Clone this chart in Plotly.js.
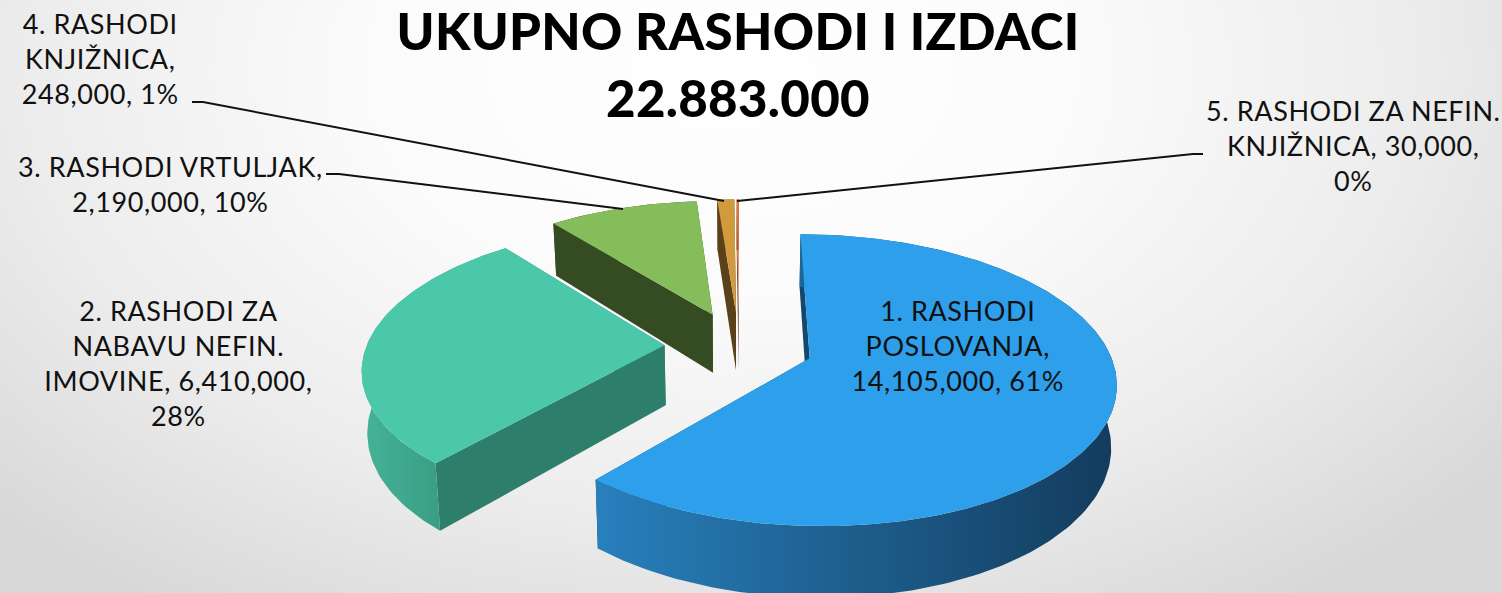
<!DOCTYPE html>
<html><head><meta charset="utf-8">
<script src="https://cdn.plot.ly/plotly-3.0.1.min.js"></script>
<style>
html,body{margin:0;padding:0;width:1502px;height:593px;overflow:hidden;
background:radial-gradient(ellipse 1000px 640px at 48% 12%,#ffffff 0%,#fbfbfb 35%,#ececec 70%,#d8d8d8 100%);}
#chart{width:1502px;height:593px;}
#chart .annotation-text{letter-spacing:.6px;}
#chart .gtitle{letter-spacing:.3px;}
</style></head><body><div id="chart"></div>
<script>
const titleLines = ["UKUPNO RASHODI I IZDACI", "22.883.000"];
const categories = ["1. RASHODI POSLOVANJA", "2. RASHODI ZA NABAVU NEFIN. IMOVINE", "3. RASHODI VRTULJAK", "4. RASHODI KNJIŽNICA", "5. RASHODI ZA NEFIN. KNJIŽNICA"];
const values = [14105000, 6410000, 2190000, 248000, 30000];
const labelTexts = [
  "1. RASHODI<br>POSLOVANJA,<br>14,105,000, 61%",
  "2. RASHODI ZA<br>NABAVU NEFIN.<br>IMOVINE, 6,410,000,<br>28%",
  "3. RASHODI VRTULJAK,<br>2,190,000, 10%",
  "4. RASHODI<br>KNJIŽNICA,<br>248,000, 1%",
  "5. RASHODI ZA NEFIN.<br>KNJIŽNICA, 30,000,<br>0%"
];
const topColors = ["#2e9fea", "#4bc8aa", "#85bd5a", "#d19a3c", "#e8763c"];
const cutColors = ["#14486e", "#2d7f6b", "#354c22", "#5a4119", "#7a3c1c"];
const rimFrom = ["#2880bd", "#45b398", "#354c22", "#5a4119", "#7a3c1c"];
const rimTo = ["#133b5c", "#2f8a72", "#354c22", "#5a4119", "#7a3c1c"];
const labelX = [958, 178, 170, 100, 1353];
const labelY = [345, 363, 184, 58, 145];
const drawOrder = [2, 3, 4, 1, 0];

// view model of the tilted, exploded pie
const CX = 739, CY = 346, A = 298, B = 139, K = 0.148, DEPTH = 60, SHRINK = 0.985, EXPLODE = 0.25;

function project(u, v, low) {
  const f = 1 / (1 + K * v);
  return [CX + A * u * f * (low ? SHRINK : 1), CY - B * v * f + (low ? DEPTH * f : 0)];
}
const total = values.reduce((s, v) => s + v, 0);
const wedges = [];
let acc = 0;
values.forEach(v => {
  const a0 = acc / total * 2 * Math.PI;
  acc += v;
  const a1 = acc / total * 2 * Math.PI;
  const mid = (a0 + a1) / 2;
  wedges.push({a0, a1, ou: EXPLODE * Math.sin(mid), ov: EXPLODE * Math.cos(mid)});
});
function rimPoint(w, a, low) { return project(w.ou + Math.sin(a), w.ov + Math.cos(a), low); }
function arc(w, low) {
  const n = Math.max(2, Math.ceil((w.a1 - w.a0) / 0.02));
  const pts = [];
  for (let i = 0; i <= n; i++) pts.push(rimPoint(w, w.a0 + (w.a1 - w.a0) * i / n, low));
  return pts;
}
function poly(pts, style) {
  return Object.assign({type: "scatter", mode: "lines", x: pts.map(p => p[0]), y: pts.map(p => p[1]),
    fill: "toself", line: {width: 0}, hoverinfo: "skip", showlegend: false}, style);
}
const traces = [];
drawOrder.forEach(i => {
  const w = wedges[i];
  const apexTop = project(w.ou, w.ov, false), apexLow = project(w.ou, w.ov, true);
  const top = arc(w, false), low = arc(w, true);
  const cut = {fillcolor: cutColors[i]};
  traces.push(poly([apexTop, top[0], low[0], apexLow, apexTop], cut));
  traces.push(poly([apexTop, top[top.length - 1], low[low.length - 1], apexLow, apexTop], cut));
  traces.push(poly(top.concat(low.slice().reverse()), {fillgradient: {type: "horizontal", colorscale: [[0, rimFrom[i]], [1, rimTo[i]]]}}));
  traces.push(poly([apexTop].concat(top), {fillcolor: topColors[i], name: categories[i]}));
});

const font = "Lato, 'Open Sans', sans-serif";
const annotations = labelTexts.map((t, i) => ({
  text: t, x: labelX[i], y: labelY[i], xref: "x", yref: "y", xanchor: "center", yanchor: "middle",
  showarrow: false, align: "center", font: {family: font, size: 27, color: "#111111"}
}));
const leader = d => ({type: "path", xref: "x", yref: "y", path: d, line: {color: "#111111", width: 2}});
const layout = {
  width: 1502, height: 593, margin: {l: 0, r: 0, t: 0, b: 0},
  paper_bgcolor: "rgba(0,0,0,0)", plot_bgcolor: "rgba(0,0,0,0)", showlegend: false,
  title: {text: titleLines.join("<br>"), x: 738 / 1502, xanchor: "center", y: 0.915, yanchor: "top", yref: "container",
    font: {family: font, size: 51, weight: 900, color: "#000000"}},
  xaxis: {visible: false, range: [0, 1502], fixedrange: true},
  yaxis: {visible: false, range: [593, 0], fixedrange: true},
  annotations,
  shapes: [
    leader("M192,102 L203,102 L724,201"),
    leader("M326,174 L339,174 L623,209"),
    leader("M1203,154 L1193,154 L737,201")
  ]
};
Plotly.newPlot("chart", traces, layout, {displayModeBar: false, staticPlot: true});
</script></body></html>
